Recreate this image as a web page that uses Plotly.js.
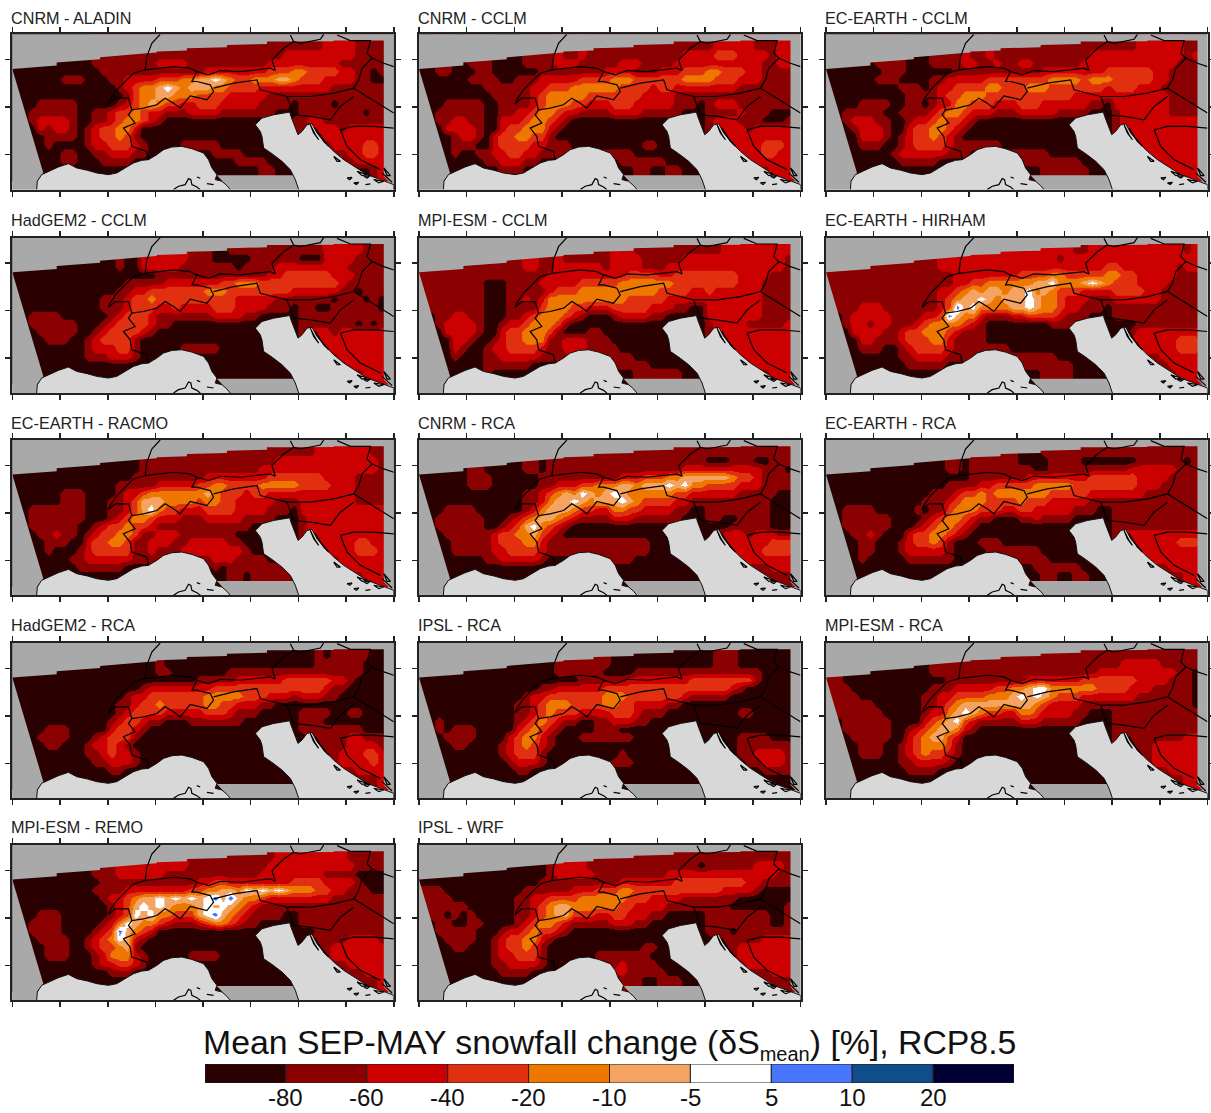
<!DOCTYPE html>
<html><head><meta charset="utf-8">
<script src="https://cdn.plot.ly/plotly-3.0.1.min.js"></script>
<style>html,body{margin:0;padding:0;background:#fff}#c{width:1211px;height:1113px}</style>
</head><body><div id="c"></div>
<script>
// Change classes per grid cell: 0:<-80 1:-80..-60 2:-60..-40 3:-40..-20 4:-20..-10 5:-10..-5 6:-5..5 7:5..10 8:10..20 9:>20
const cnrm_aladin=["...... ...... ...... ...... ...111 111111 111222 211111","...... ...... ...... 111111 111111 111122 222222 211111","...... 000011 111111 222211 111111 112222 222221 111111","000000 000001 111111 111111 222222 223334 433332 211011","000000 111000 112222 333445 565433 444554 333222 211001","000000 000000 012344 565455 544333 322222 222211 111111","000000 000000 001344 554443 333222 221111 111111 111111",".00111 110000 012345 433223 332222 211110 111101 111111","..1111 110011 233432 211122 221111 111000 111111 110111","..1222 210011 234432 100000 000000 000001 122111 111111","...212 210123 344200 000000 000000 000001 112221 222222","....11 110123 343100 000000 000000 000000 111222 222222","....10 000122 333210 000111 110000 000000 111122 223322","....00 110011 222110 000000 011110 000000 000011 223322","....00 110001 111000 000000 000011 110000 000000 122222","....00 000000 000000 000000 000000 011000 000000 000122"];
const cnrm_cclm=["...... ...... ...... ...... ...111 111111 122222 111222","...... ...... ...... 112111 111111 111222 233322 221222","...... 111000 011112 221111 122211 112222 222222 211221","001100 011000 000111 111112 222111 222333 443332 211111","000000 111100 111222 223333 444333 333444 433322 211111","000000 001111 112233 344444 433332 332222 222211 111111","000000 000111 112344 444333 333322 221111 111111 111111",".00111 110011 112344 433222 333222 221110 122211 111111","..1111 110011 223443 221111 222211 111000 111121 110001","..1122 110022 234432 100000 000000 000000 122211 100011","...222 210023 344421 000000 000000 000000 122221 222222","....12 210233 443310 000000 000000 000000 122222 222222","....11 100233 332211 100000 000011 000000 112222 233322","....10 011223 322111 111111 111000 000000 111222 233222","....00 001122 211000 000000 011111 100000 000012 222222","....00 000011 100000 000000 000110 011000 000001 112222"];
const ecearth_cclm=["...... ...... ...... ...... ...111 111111 111222 222111","...... ...... ...... 112111 111111 111222 222222 222121","...... 111100 011112 211211 221111 112222 222222 221111","000000 011100 000011 111111 111222 222223 333332 211111","000000 111000 011222 223333 333344 443444 333332 211111","000000 000111 012233 334433 344433 333332 333222 111111","000000 000011 112334 443333 333333 322222 222222 211111",".00011 110011 012244 333222 333222 222110 222222 211111","..1111 100111 123443 222111 222221 111000 122222 211111","..1222 110012 234332 100000 000000 000000 122222 222222","...122 210023 344321 000000 000000 000000 122222 222222","....22 210123 343210 000000 000000 000000 112222 222222","....11 100123 333211 111100 000000 000000 112222 222222","....00 001222 222111 000011 111100 000000 111222 222222","....00 000111 110000 000000 111111 110000 000112 222222","....00 000000 000000 000000 000111 111000 000001 122222"];
const hadgem_cclm=["...... ...... ...... ...... ...111 111111 111222 221111","...... ...... ...... 222211 100000 111111 000222 211111","...... 000000 010022 222111 111101 111222 222222 111111","000000 000000 000000 111111 111111 112233 333322 211111","000000 000000 001111 122222 223344 433333 333332 111111","000000 000000 011223 333333 444333 333332 222221 101111","000000 000001 112334 333333 333322 222111 111101 110101",".00000 000001 112333 223222 233322 221110 110011 111101","..1111 000000 123332 111111 122221 100000 111111 111111","..1111 110001 233332 110000 000000 000000 111111 101012","...111 110012 333321 000000 000000 000000 122212 222222","....11 100123 333100 000000 000000 000000 112222 222222","....00 000122 233100 000111 110000 000000 111222 222222","....00 000111 222100 000000 000000 000000 000112 222222","....00 000000 000000 000000 000000 000000 000011 222222","....00 000000 000000 000000 000000 000000 000000 112222"];
const mpiesm_cclm=["...... ...... ...... ...... ...111 111111 112222 222222","...... ...... ...... 111111 222211 111222 222222 222212","...... 111111 122112 222221 222211 122222 222222 222211","111111 111111 111122 222222 223333 223333 333322 221111","111111 110001 111222 223333 344444 443333 333322 211111","111111 110001 111123 334444 444444 333322 322222 211111","111111 110001 121244 444444 443333 322222 222222 211111",".11111 110001 111344 433222 333332 221100 222222 211111","..1122 110001 123444 321000 122221 100000 222222 211111","..1222 210012 234443 100000 000000 000000 122221 111122","...222 210023 344431 000110 000000 000000 122222 222222","....22 100123 344411 222111 000000 000000 112222 222222","....21 001223 333211 222111 100000 000000 112222 222222","....10 001122 222111 111111 111000 000000 111122 222222","....00 001111 110000 000011 111110 000000 000012 222222","....00 001000 000000 000000 000111 111000 000000 112222"];
const ecearth_hirham=["...... ...... ...... ...... ...222 211222 222222 222122","...... ...... ...... 222222 222221 222222 222222 222222","...... 111111 112222 222222 222222 222223 322222 221222","111111 111111 111122 222222 333344 333334 433222 221111","111111 111111 111122 334444 445564 445654 333222 211111","111111 111111 112234 545545 564543 332222 333322 111111","111111 111111 112345 565455 565443 222111 222222 111111",".11122 211111 112375 644445 565443 221110 111111 111111","..1222 221111 223754 421112 233332 111000 111111 111111","..1221 221112 344443 210000 000011 100000 000111 111111","...222 211233 444321 110000 000000 000000 001222 222222","....22 111233 344211 110000 000000 000000 012222 223332","....11 100123 333211 111110 000000 000000 011222 223332","....00 000112 222111 111111 111110 000000 000111 222222","....00 000011 111000 000011 111111 100000 000011 122222","....00 000000 000000 000000 000111 100000 000000 012222"];
const ecearth_racmo=["...... ...... ...... ...... ...111 111111 112222 222111","...... ...... ...... 111111 111111 111222 222222 222211","...... 000000 000011 111111 111111 122222 222222 222211","000000 000000 000111 111111 222222 223333 333222 211111","000000 000000 011111 222223 344333 344444 333322 211111","000000 111000 012234 444444 543332 332222 222222 211111","000000 111000 112355 544443 443322 222111 222222 211111",".01111 111000 112356 433222 333322 221110 222222 222222","..1111 111000 123443 222111 222221 111000 122222 222222","..1111 110012 334332 111111 111111 000000 122222 222222","...112 110123 344311 222111 111100 000000 122222 222222","....11 100233 443112 221122 222110 000000 122222 233222","....10 001233 333112 111222 222221 000000 111222 233322","....00 011222 222111 111111 122211 110000 000112 222222","....00 001111 110000 000000 010111 111100 000012 222222","....00 000000 000000 000000 000110 111110 000000 112222"];
const cnrm_rca=["...... ...... ...... ...... ...111 111111 111111 111111","...... ...... ...... 111111 111111 111111 000111 001111","...... 110000 011011 111111 111111 111222 222222 211101","000000 111000 000111 111111 122233 344555 555433 211111","000000 111000 000112 223344 455455 565644 333322 211111","000000 000000 011234 546545 654444 443322 222211 111000","000000 000000 011245 565455 565433 332211 111111 110000",".00111 100000 012455 543322 443322 221100 111111 110000","..1111 110001 234554 321111 222111 111000 110011 110000","..1111 110012 356432 100000 000000 000000 000111 110002","...111 111233 445321 000000 000000 000000 012221 222111","....11 111233 344211 111111 111110 000000 012222 223333","....11 111223 333211 111111 111110 000000 011222 233332","....00 001122 222100 000001 111000 000000 001122 222222","....00 000000 000000 000000 000000 000000 000011 112222","....00 000000 000000 000000 000000 000000 000000 011112"];
const ecearth_rca=["...... ...... ...... ...... ...111 111111 111111 111111","...... ...... ...... 111111 000011 110000 000111 111011","...... 000000 000110 111111 110011 111111 112222 221111","000000 000000 000000 111111 122222 222333 333222 211111","000000 000000 000111 122333 334444 433333 333222 111111","000000 000000 011123 343444 444433 333222 222211 111111","000000 000000 111234 443333 433322 222111 111111 111111",".01111 000001 011344 433322 332222 211100 111111 111111","..1111 110000 123443 211000 112111 100000 111111 111111","..1111 110001 234432 100000 000000 000000 111111 111112","...112 100023 344321 000000 000000 000000 122222 222222","....11 000123 343100 011100 000000 000000 112222 223332","....11 000122 222100 001111 111000 000000 112222 222222","....10 000011 111100 000001 111100 000000 001122 222222","....00 000000 000000 000000 001111 110000 000001 122222","....00 000000 000000 000000 000110 011000 000000 011222"];
const hadgem_rca=["...... ...... ...... ...... ...... ...... ...011 111000","...... ...... ...... 100000 000000 000000 001111 110000","...... 000000 000000 110000 000111 111111 111111 110000","000000 000000 000000 000001 111122 222233 333322 100000","000000 000000 000012 222222 233333 333333 333211 000000","000000 000000 001223 333333 444443 332221 222110 000000","000000 000000 011233 433333 443322 211000 000000 000000",".00000 000000 012333 322222 333211 100000 111100 110000","...000 000000 123321 100011 111110 000000 111000 000000","...011 100000 233210 000000 000000 000000 111111 110000","...111 100012 333100 000000 000000 000000 011111 221110","....11 000122 321000 000000 000000 000000 011111 222210","....00 000112 322100 000000 000000 000000 001112 223321","....00 000011 222100 000000 000000 000000 000112 222322","....00 000000 110000 000000 000000 000000 000011 122222","....00 000000 000000 000000 000000 000000 000000 011122"];
const ipsl_rca=["...... ...... ...... ...... ...... ...... ...... ...000","...... ...... ...... 111111 000000 000000 011100 000000","...... 000000 000001 111110 000111 111111 111111 100000","000000 000000 000000 001111 112222 222233 333333 100000","000000 000000 000112 222223 333333 333333 333210 000000","000000 000000 012233 333334 443333 333211 111000 000000","000000 000000 112344 433334 433222 211000 000000 000000",".00000 000000 112343 332222 333211 100000 000011 000000","...000 000000 123432 110011 222110 000000 000000 000000","..1011 100000 234321 000011 100000 000000 000000 000001","...111 100002 344210 001111 111000 000000 000011 110000","....11 000012 343210 000000 000000 000000 000011 111110","....00 000012 333100 000000 010000 000000 000011 222210","....00 000001 222100 000000 111000 000000 000001 122211","....00 000000 110000 000000 000000 000000 000000 011111","....00 000000 000000 000000 000000 000000 000000 000000"];
const mpiesm_rca=["...... ...... ...... ...... ...... 111111 111111 111111","...... ...... ...... 111111 111111 111111 122222 111111","...... 000000 011111 111111 111111 111122 222222 221100","110000 000000 000111 111111 122222 223333 333222 211100","111000 000000 011122 222334 456644 444433 332221 111100","111100 000000 112233 334445 656543 332222 222111 111100","111111 000000 112345 555555 554322 221111 111111 111100",".11111 100000 122456 543322 443222 211000 111111 111111","..1111 110000 234563 211111 222111 110000 111111 111111","..1111 110012 345542 100000 000000 000000 111111 111111","...111 110023 455320 000000 000000 000000 111111 111222","....11 100123 444310 000000 000000 000000 111112 222222","....11 100123 433210 000000 000000 000000 111112 222222","....00 000112 222100 000000 000000 000000 000112 222222","....00 000011 110000 000000 000000 000000 000011 122222","....00 000000 000000 000000 000000 000000 000000 011222"];
const mpiesm_remo=["...... ...... ...... ...... ...... 111222 222222 111111","...... ...... ...... 222211 111111 112222 222222 211111","...... ...011 122222 211111 111111 122222 222111 100000","000000 000001 111111 111112 233222 222223 333222 210000","000000 000011 112222 222233 445546 565654 443322 111000","000000 000001 223455 656565 675754 432222 222211 111111","000000 000000 123565 654445 656543 211111 111111 111111",".00111 000000 123656 443335 675432 111100 111111 111111","..1111 000001 246544 321112 344321 100000 111111 111111","..1111 000012 375432 000000 000000 000000 001111 111111","...111 100123 465210 000000 000000 000000 011111 222211","....11 100123 345100 000000 000000 000000 011122 222221","....11 100012 444210 000011 110000 000000 011122 222222","....00 000012 233210 000000 000000 000000 000111 222222","....00 000000 111000 000000 000000 000000 000011 112222","....00 000000 000000 000000 000000 000000 000000 011122"];
const ipsl_wrf=["...... ...... ...... ...... ...111 111111 111111 111111","...... ...... ...... 222111 111111 111110 111111 222211","...... 000000 000012 222211 111111 122222 222222 222111","000000 000000 000111 111111 122222 223333 333332 211111","111000 000000 011111 122233 344333 333333 332222 100000","111100 000000 112233 334444 443332 222111 111100 000000","111111 000000 112345 544444 433222 211111 111000 000011",".11010 100000 112345 533322 332221 100000 111111 110011","..1100 110000 123443 211111 222110 000000 111111 110011","..1111 100012 234332 100000 000000 000000 111011 111111","...111 100123 344210 000000 000000 000000 011111 122222","....11 000123 343100 000000 000011 000000 011122 222222","....00 000122 333100 000011 111110 000000 011122 222222","....00 000112 222100 000001 121111 000000 001112 222222","....00 000011 110000 000001 221111 100000 000011 112222","....00 000000 000000 000000 011100 111000 000000 011112"];

const panelNames=["CNRM - ALADIN","CNRM - CCLM","EC-EARTH - CCLM","HadGEM2 - CCLM","MPI-ESM - CCLM","EC-EARTH - HIRHAM","EC-EARTH - RACMO","CNRM - RCA","EC-EARTH - RCA","HadGEM2 - RCA","IPSL - RCA","MPI-ESM - RCA","MPI-ESM - REMO","IPSL - WRF"];
const panelGrids=[cnrm_aladin,cnrm_cclm,ecearth_cclm,hadgem_cclm,mpiesm_cclm,ecearth_hirham,ecearth_racmo,cnrm_rca,ecearth_rca,hadgem_rca,ipsl_rca,mpiesm_rca,mpiesm_remo,ipsl_wrf];
const classColors=["#2b0000","#8b0000","#cc0000","#e03010","#ee7700","#f4a460","#ffffff","#4876ff","#104e8b","#000033"];
const cbLabels=["-80","-60","-40","-20","-10","-5","5","10","20"];

// map geometry in map units
const ligurianX=[110,112,125,145,175,205,230,262,290,325,350,375,400,425,445,470,490,515,545,575,610,625,635,650,645,665,680,690];
const ligurianY=[570,545,525,515,502,492,505,512,520,525,520,505,490,482,480,465,450,442,440,447,460,480,505,525,540,545,558,570];
const adriaticX=[895,885,870,845,815,790,785,780,765,785,820,850,868,872,880,893,905,920,935,950,975,1000,1030,1060,1100,1140,1180,1180];
const adriaticY=[570,540,510,485,462,445,410,395,375,355,345,340,337,350,370,405,395,375,372,400,430,455,480,500,525,540,555,570];
const maskX=[37,1180,1180,1150,1150,1000,1000,880,800,800,680,680,560,560,470,470,440,300,300,170,170,37,37,null,37,130,110,110,37,37,null,650,880,895,690,650];
const maskY=[103,103,560,530,122,122,124,125,125,132,135,142,145,152,155,158,160,172,178,188,197,207,103,null,207,520,545,570,570,207,null,527,527,570,570,527];
const borderX=[480,455,440,435,400,380,350,330,325,345,385,395,430,470,495,520,540,560,570,600,620,640,630,590,575,590,570,520,480,435,null,590,625,660,720,810,825,815,850,880,870,null,880,900,960,970,null,1010,1050,1110,1100,1115,1085,1075,1060,1000,930,860,780,770,700,640,null,860,870,880,null,880,930,990,1020,1060,null,1060,1100,1180,null,1115,1150,1180,null,1020,1040,1080,1140,null,1020,1060,1120,1180,null,395,385,405,370,390,395,440,445];
const borderY=[103,130,170,210,220,240,270,300,312,295,295,330,325,315,295,310,325,300,288,295,300,275,255,245,245,215,205,200,205,210,null,215,225,212,215,205,212,180,145,125,105,null,125,130,118,103,null,105,122,122,160,175,205,240,265,280,290,290,270,240,250,265,null,290,320,345,null,345,350,360,320,290,null,265,290,340,null,175,190,200,null,390,440,480,510,null,390,380,380,385,null,330,345,370,385,410,440,455,480];
const islandX=[520,535,555,565,572,575,590,600,null,590,600,null,620,640,null,930,940,955,945,930,null,945,960,985,970,945,null,1000,1020,1010,1000,null,1040,1055,1048,1040,null,1090,1110,1100,1090,null,1070,1100,1085,1070,null,1120,1150,1135,1120,null,1095,1110,null,1145,1175,null,1060,1075,1068,1060,null,1150,1170,1160,1150];
const islandY=[570,560,555,537,540,555,562,570,null,532,536,null,552,555,null,375,400,420,405,375,null,385,410,440,425,385,null,470,485,485,470,null,535,533,540,535,null,530,528,535,530,null,515,525,528,515,null,540,545,550,540,null,555,553,null,520,548,null,550,548,555,550,null,505,528,528,505];
const tickXs=[37,180,323,466,609,751,894,1037,1180];
const tickYs=[179,322,465];

// layout
const W=1211,H=1113;
const colLeft=[12.3,419,826],colWidth=381.5;
const rowTop=[34.3,237.7,440,643,845],rowHeight=155.3;
const titleY=[18,220,423,625,827];
const colorscale=[];
classColors.forEach((c,i)=>{colorscale.push([i/10,c]);colorscale.push([(i+1)/10,c]);});
const FONT='Liberation Sans, Arial, sans-serif';

function toZ(rows){
  const g=rows.map(s=>s.replace(/ /g,'').split(''));
  g.unshift(g[0].slice()); g.push(g[g.length-1].slice());
  for(let r=g.length-2;r>=0;r--) for(let c=0;c<48;c++) if(g[r][c]==='.') g[r][c]=g[r+1][c];
  return g.map(r=>r.map(v=>v==='.'?0:+v));
}
const data=[],annotations=[];
const layout={width:W,height:H,margin:{l:0,r:0,t:0,b:0},paper_bgcolor:'#fff',plot_bgcolor:'#a9a9a9',showlegend:false,annotations};
panelGrids.forEach((rows,i)=>{
  const n=i+1,cx=i%3,rw=Math.floor(i/3);
  const xa=n===1?'x':'x'+n, ya=n===1?'y':'y'+n;
  const common={xaxis:xa,yaxis:ya,hoverinfo:'skip',showlegend:false};
  data.push({type:'heatmap',z:toZ(rows),x0:49,dx:23.8,y0:115.3,dy:24.6,zmin:-0.5,zmax:9.5,colorscale,showscale:false,zsmooth:'best',...common});
  data.push({type:'scatter',mode:'none',x:maskX,y:maskY,fill:'toself',fillcolor:'#a9a9a9',...common});
  data.push({type:'scatter',mode:'lines',x:ligurianX.concat([null],adriaticX),y:ligurianY.concat([null],adriaticY),fill:'toself',fillcolor:'#d8d8d8',line:{color:'#111',width:1},...common});
  data.push({type:'scatter',mode:'lines',x:borderX.concat([null],islandX),y:borderY.concat([null],islandY),line:{color:'#000',width:1.2},...common});
  const ax={showgrid:false,zeroline:false,showticklabels:false,showline:true,linecolor:'#222',linewidth:2,mirror:'ticks',ticks:'outside',ticklen:5,tickwidth:1.5,tickcolor:'#222',tickmode:'array'};
  layout[n===1?'xaxis':'xaxis'+n]={...ax,anchor:ya,domain:[colLeft[cx]/W,(colLeft[cx]+colWidth)/W],range:[37,1180],tickvals:tickXs};
  layout[n===1?'yaxis':'yaxis'+n]={...ax,anchor:xa,domain:[1-(rowTop[rw]+rowHeight)/H,1-rowTop[rw]/H],range:[570,103],tickvals:tickYs};
  annotations.push({xref:'paper',yref:'paper',x:(colLeft[cx]-1)/W,y:1-titleY[rw]/H,xanchor:'left',yanchor:'middle',showarrow:false,text:panelNames[i],font:{family:FONT,size:16.2,color:'#222'},borderpad:0,borderwidth:0});
});
// colour bar
const cb=15;
data.push({type:'bar',x:classColors.map((c,i)=>i+0.5),y:classColors.map(()=>1),width:classColors.map(()=>1),marker:{color:classColors,line:{color:'#222',width:1}},xaxis:'x'+cb,yaxis:'y'+cb,hoverinfo:'skip',showlegend:false});
layout['xaxis'+cb]={anchor:'y'+cb,domain:[205/W,1014/W],range:[0,10],showticklabels:false,ticks:'',showgrid:false,zeroline:false,showline:false};
layout['yaxis'+cb]={anchor:'x'+cb,domain:[1-1083/H,1-1064/H],range:[0,1],showticklabels:false,ticks:'',showgrid:false,zeroline:false,showline:false};
cbLabels.forEach((t,i)=>annotations.push({xref:'x'+cb,yref:'paper',x:i+1,y:1-1097/H,xanchor:'center',yanchor:'middle',showarrow:false,text:t,font:{family:FONT,size:24,color:'#111'},borderpad:0}));
annotations.push({xref:'paper',yref:'paper',x:609.5/W,y:1-1044/H,xanchor:'center',yanchor:'middle',showarrow:false,text:'Mean SEP-MAY snowfall change (δS<sub><span style="font-size:20px">mean</span></sub>) [%], RCP8.5',font:{family:FONT,size:33.8,color:'#111'},borderpad:0});
Plotly.newPlot('c',data,layout,{displayModeBar:false,staticPlot:true});
</script></body></html>
